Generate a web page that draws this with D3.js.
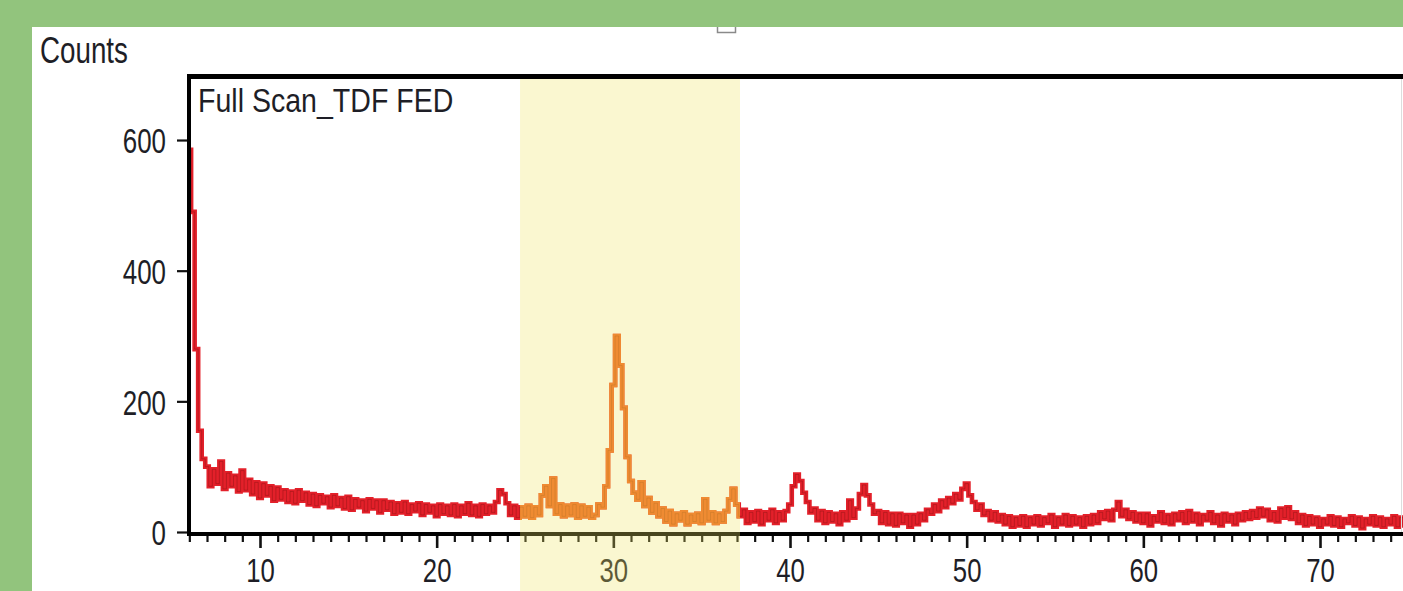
<!DOCTYPE html>
<html>
<head>
<meta charset="utf-8">
<script src="https://cdn.jsdelivr.net/npm/d3@7"></script>
<style>
  html, body { margin: 0; padding: 0; background: #92c47d; }
  svg { display: block; }
  text { font-family: "Liberation Sans", Arial, sans-serif; fill: #1e1e26; }
</style>
</head>
<body>
<svg id="chart" width="1403" height="591"></svg>
<script>
// ---- data ----
const yLabel = "Counts";
const title = "Full Scan_TDF FED";
const xTicks = [10, 20, 30, 40, 50, 60, 70];
const yTicks = [0, 200, 400, 600];
const highlightRange = [24.72, 37.17];
const scanStart = 6.0;   // 2θ of first sample
const scanStep = 0.2;    // 2θ step between samples
const counts = [
  585, 490, 280, 155, 112,   // 6
  100, 70, 96, 74, 108,      // 7
  66, 90, 70, 86, 62,        // 8
  94, 64, 80, 58, 76,        // 9
  52, 74, 56, 70, 48,        // 10
  68, 50, 64, 46, 62,        // 11
  44, 64, 48, 60, 42,        // 12
  58, 40, 56, 44, 54,        // 13
  38, 56, 40, 52, 36,        // 14
  54, 34, 50, 38, 48,        // 15
  32, 50, 36, 48, 30,        // 16
  48, 34, 46, 28, 44,        // 17
  30, 46, 28, 42, 32,        // 18
  44, 26, 42, 30, 40,        // 19
  24, 42, 28, 40, 26,        // 20
  42, 24, 40, 28, 44,        // 21
  26, 40, 24, 42, 28,        // 22
  40, 30, 46, 64, 58,        // 23
  44, 26, 40, 22, 38,        // 24
  24, 40, 22, 38, 26,        // 25
  56, 70, 40, 82, 28,        // 26
  42, 24, 40, 26, 42,        // 27
  22, 40, 24, 38, 22,        // 28
  26, 42, 38, 70, 125,       // 29
  225, 300, 255, 190, 115,   // 30
  78, 60, 50, 76, 40,        // 31
  52, 30, 44, 24, 36,        // 32
  16, 32, 12, 28, 18,        // 33
  30, 12, 26, 16, 28,        // 34
  14, 50, 18, 30, 14,        // 35
  28, 16, 32, 50, 66,        // 36
  42, 24, 34, 14, 30,        // 37
  16, 32, 12, 30, 18,        // 38
  34, 14, 30, 18, 32,        // 39
  42, 70, 88, 78, 60,        // 40
  46, 30, 36, 18, 32,        // 41
  14, 30, 16, 28, 12,        // 42
  30, 18, 48, 22, 36,        // 43
  58, 72, 56, 42, 28,        // 44
  32, 14, 30, 12, 28,        // 45
  10, 28, 14, 26, 8,         // 46
  26, 12, 28, 18, 34,        // 47
  28, 42, 32, 48, 38,        // 48
  52, 44, 58, 50, 66,        // 49
  74, 56, 46, 34, 42,        // 50
  26, 32, 18, 30, 16,        // 51
  26, 12, 24, 8, 22,         // 52
  10, 24, 8, 22, 12,         // 53
  24, 10, 22, 14, 26,        // 54
  8, 22, 12, 26, 10,         // 55
  24, 12, 22, 8, 24,         // 56
  12, 26, 14, 30, 20,        // 57
  32, 18, 34, 46, 24,        // 58
  34, 20, 30, 16, 28,        // 59
  14, 28, 10, 24, 16,        // 60
  30, 14, 26, 12, 28,        // 61
  18, 30, 14, 32, 16,        // 62
  28, 12, 26, 18, 30,        // 63
  14, 26, 10, 28, 16,        // 64
  26, 12, 28, 18, 30,        // 65
  20, 32, 22, 36, 24,        // 66
  34, 18, 30, 16, 36,        // 67
  22, 38, 20, 30, 14,        // 68
  26, 10, 24, 12, 22,        // 69
  8, 20, 12, 24, 10,         // 70
  22, 8, 20, 14, 24,         // 71
  10, 22, 6, 20, 12,         // 72
  24, 10, 22, 8, 20,         // 73
  12, 24, 8, 22, 10,         // 74
  22, 10, 24, 12, 20,        // 75
  14                         // 76
];

// ---- drawing ----
const W = 1403, H = 591;
const svg = d3.select("#chart");
const FONT = "'Liberation Sans', Arial, sans-serif";

const x = d3.scaleLinear().domain([10, 70]).range([260, 1320]);
const y = d3.scaleLinear().domain([0, 700]).range([532, 532 - 700 * 0.6533]);

const points = counts.map((c, i) => ({ t: scanStart + i * scanStep, c }));

// white panel
svg.append("rect").attr("x", 32).attr("y", 27).attr("width", W - 32).attr("height", H - 27).attr("fill", "#ffffff");

// small handle at top
svg.append("path").attr("d", "M717.5,27 V32.5 H735.5 V27")
  .attr("fill", "none").attr("stroke", "#8a8a8a").attr("stroke-width", 1.5);

const defs = svg.append("defs");
defs.append("clipPath").attr("id", "plotClip")
  .append("rect").attr("x", 190).attr("y", 79).attr("width", W - 190).attr("height", 532 - 79);
defs.append("clipPath").attr("id", "hlClip")
  .append("rect").attr("x", x(highlightRange[0])).attr("y", 79)
  .attr("width", x(highlightRange[1]) - x(highlightRange[0])).attr("height", 532 - 79);

const line = d3.line().x(d => x(d.t)).y(d => y(d.c)).curve(d3.curveStep);

const plot = svg.append("g").attr("clip-path", "url(#plotClip)");
plot.append("path").datum(points).attr("d", line)
  .attr("fill", "none").attr("stroke", "#e3202a").attr("stroke-width", 4.6).attr("stroke-linejoin", "miter");
plot.append("path").datum(points).attr("d", line)
  .attr("fill", "none").attr("stroke", "#8c1414").attr("stroke-width", 1).attr("stroke-opacity", 0.45);
const hl = plot.append("g").attr("clip-path", "url(#hlClip)");
hl.append("path").datum(points).attr("d", line)
  .attr("fill", "none").attr("stroke", "#f0651d").attr("stroke-width", 4.6);
hl.append("path").datum(points).attr("d", line)
  .attr("fill", "none").attr("stroke", "#a0400c").attr("stroke-width", 1).attr("stroke-opacity", 0.4);

// faint right edge
svg.append("line").attr("x1", 1401.5).attr("x2", 1401.5).attr("y1", 79).attr("y2", 532)
  .attr("stroke", "#dddddd").attr("stroke-width", 1);

// minor x ticks
const minor = d3.range(6, 77).filter(v => v % 10 !== 0);
const gMinor = svg.append("g").attr("transform", "translate(0,534)")
  .call(d3.axisBottom(x).tickValues(minor).tickSize(8).tickSizeOuter(0).tickFormat(""));
gMinor.select(".domain").remove();
gMinor.selectAll("line").attr("stroke", "#111").attr("stroke-width", 2.2);

// major x axis
const gx = svg.append("g").attr("transform", "translate(0,534)")
  .call(d3.axisBottom(x).tickValues(xTicks).tickSize(14).tickSizeOuter(0).tickPadding(11).tickFormat(d3.format("d")));
gx.select(".domain").remove();
gx.selectAll("line").attr("stroke", "#111").attr("stroke-width", 2.6);
gx.selectAll("text").attr("font-size", 33).attr("fill", "#1e1e26")
  .attr("font-family", FONT).attr("transform", "scale(0.78,1)");

// y axis
const gy = svg.append("g").attr("transform", "translate(189,0)")
  .call(d3.axisLeft(y).tickValues(yTicks).tickSize(12).tickSizeOuter(0).tickFormat(d3.format("d")));
gy.select(".domain").remove();
gy.selectAll("line").attr("stroke", "#111").attr("stroke-width", 2.2);
gy.selectAll("text").attr("font-size", 36).attr("fill", "#1e1e26")
  .attr("font-family", FONT)
  .attr("x", -23 / 0.72).attr("dy", "0.36em").attr("transform", "scale(0.72,1)");

// frame lines
svg.append("line").attr("x1", 187).attr("x2", W).attr("y1", 76.5).attr("y2", 76.5)
  .attr("stroke", "#000").attr("stroke-width", 5);
svg.append("line").attr("x1", 189).attr("x2", 189).attr("y1", 74).attr("y2", 536)
  .attr("stroke", "#000").attr("stroke-width", 4);
svg.append("line").attr("x1", 187).attr("x2", W).attr("y1", 534).attr("y2", 534)
  .attr("stroke", "#000").attr("stroke-width", 4);

// labels
svg.append("text").attr("transform", "translate(40,63) scale(0.75,1)")
  .attr("font-size", 37).text(yLabel);
svg.append("text").attr("transform", "translate(198,112) scale(0.84,1)")
  .attr("font-size", 34).text(title);

// highlight overlay
svg.append("rect")
  .attr("x", x(highlightRange[0])).attr("y", 79)
  .attr("width", x(highlightRange[1]) - x(highlightRange[0])).attr("height", H - 79)
  .attr("fill", "rgb(240,230,100)").attr("fill-opacity", 0.3);
</script>
</body>
</html>
